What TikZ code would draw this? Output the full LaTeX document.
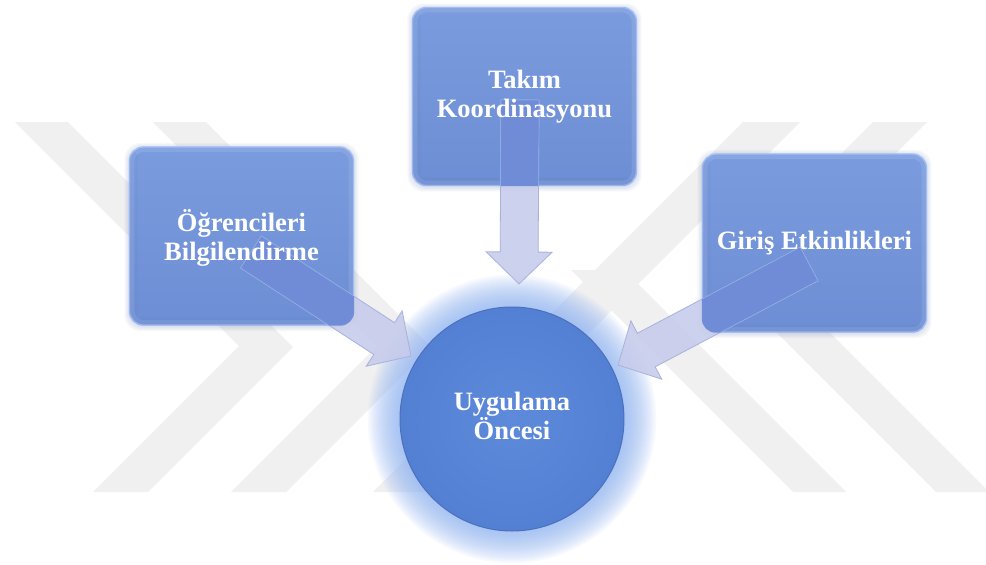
\documentclass[tikz,border=0pt]{standalone}
\usepackage{fontspec}
\setmainfont{Liberation Serif}
\usetikzlibrary{calc}

\definecolor{wmgray}{HTML}{F0F0F0}
\definecolor{boxtop}{HTML}{7A9BDD}
\definecolor{boxbot}{HTML}{6D8ED4}
\definecolor{boxrim}{HTML}{97B6F3}
\definecolor{boxshade}{HTML}{5C78B8}
\definecolor{ballout}{HTML}{5480D4}
\definecolor{ballin}{HTML}{5E8ADB}
\definecolor{ballrim}{HTML}{4B70BC}
\definecolor{glowc}{HTML}{8AB1F4}
\definecolor{arrfill}{HTML}{C6CBEB}
\definecolor{arrrim}{HTML}{A9B1DC}
\definecolor{arrdeep}{HTML}{6383D5}

\tikzset{
  panelsize/.style={minimum width=224pt, minimum height=178pt, inner sep=0pt},
  panel/.style={panelsize, rounded corners=14pt, top color=boxtop,
    bottom color=boxbot, draw=boxrim, line width=1.4pt},
  ball/.style={circle, minimum size=224pt, inner sep=0pt, draw=ballrim,
    line width=1pt, inner color=ballin, outer color=ballout},
  txt/.style={text=white, font=\fontsize{26.5}{29.5}\selectfont\bfseries,
    align=center, inner sep=0pt},
  arrowbody/.style={fill=arrfill, fill opacity=0.88, draw=arrrim,
    line width=0.8pt, line join=miter},
  arrowdeep/.style={fill=arrdeep, fill opacity=0.85, draw=boxrim,
    draw opacity=0.6, line width=0.6pt},
  wm/.style={fill=wmgray}
}

% block arrow from a tail coordinate to a tip coordinate
\newcommand\blockarrow[3]{%
  \pgfpointdiff{\pgfpointanchor{#2}{center}}{\pgfpointanchor{#3}{center}}%
  \pgfgetlastxy{\arrdx}{\arrdy}%
  \pgfmathsetmacro\arrang{atan2(\arrdy,\arrdx)}%
  \pgfmathsetmacro\arrlen{veclen(\arrdx,\arrdy)}%
  \pgfmathsetmacro\arrneck{\arrlen-32}%
  \begin{scope}[shift={(#2)}, rotate=\arrang, x=1pt, y=1pt]
    \path[#1] (0,-19) -- (\arrneck,-19) -- (\arrneck,-33) -- (\arrlen,0)
      -- (\arrneck,33) -- (\arrneck,19) -- (0,19) -- cycle;
  \end{scope}}

% soft shadow and bevel of a panel node
\newcommand\panelshadow[1]{%
  \foreach \k in {1,...,5}
    \fill[boxshade, opacity=0.045, rounded corners=16pt]
      ([xshift=-\k pt, yshift=-\k pt-1pt]#1.south west)
      rectangle ([xshift=\k pt, yshift=\k pt-1pt]#1.north east);}
\newcommand\panelbevel[1]{%
  \begin{scope}
    \clip[rounded corners=14pt] (#1.south west) rectangle (#1.north east);
    \draw[white, opacity=0.10, line width=9pt, rounded corners=14pt]
      ([xshift=1pt, yshift=1pt]#1.south west) rectangle ([xshift=-1pt, yshift=-1pt]#1.north east);
    \fill[boxshade, opacity=0.12]
      (#1.south west) -- ([xshift=9pt, yshift=9pt]#1.south west)
      -- ([xshift=-9pt, yshift=9pt]#1.south east) -- (#1.south east) -- cycle;
    \fill[boxshade, opacity=0.08]
      (#1.south west) -- ([xshift=9pt, yshift=9pt]#1.south west)
      -- ([xshift=9pt, yshift=-9pt]#1.north west) -- (#1.north west) -- cycle;
  \end{scope}}

\begin{document}
\begin{tikzpicture}[x=1pt, y=-1pt]
  \useasboundingbox (0,0) rectangle (986,565);
  \fill[white] (0,0) rectangle (986,565);

  % faint emblem in the background
  \fill[wm] (15,122) -- (68,122) -- (293,347) -- (148,492) -- (93,492) -- (239,346) -- cycle;
  \fill[wm] (153,122) -- (206,122) -- (431,347) -- (286,492) -- (231,492) -- (377,346) -- cycle;
  \fill[wm] (873,122) -- (927,122) -- (773,276) -- (989,492) -- (936,492) -- (719.5,275.5) -- cycle;
  \fill[wm] (743,122) -- (800,122) -- (430,492) -- (373,492) -- cycle;
  \fill[wm] (571,270) -- (624,270) -- (846,492) -- (793,492) -- cycle;

  % centre node and its halo
  \coordinate (ballc) at (512,419);
  \foreach \k in {1,...,18}
    \fill[glowc, opacity=0.065] (ballc) circle[radius={(110+1.9*\k)*1pt}];
  \node[ball] (uyg) at (ballc) {};

  % outer panels
  \coordinate (takimc) at (524.5,96.5);
  \coordinate (ogrc)   at (241.5,236);
  \coordinate (girisc) at (814.5,243);
  \node[panelsize] (takimS) at (takimc) {};
  \node[panelsize] (ogrS)   at (ogrc) {};
  \node[panelsize] (girisS) at (girisc) {};
  \panelshadow{takimS}
  \panelshadow{ogrS}
  \panelshadow{girisS}
  \node[panel] (takim) at (takimc) {};
  \node[panel] (ogr)   at (ogrc) {};
  \node[panel] (giris) at (girisc) {};
  \panelbevel{takim}
  \panelbevel{ogr}
  \panelbevel{giris}

  % arrow ends
  \coordinate (tT) at (520,100);
  \coordinate (hT) at (519,284);
  \coordinate (tL) at (251,252);
  \coordinate (hL) at (411,356);
  \coordinate (tR) at (809,264);
  \coordinate (hR) at (618,365);

  \blockarrow{arrowbody}{tT}{hT}
  \blockarrow{arrowbody}{tL}{hL}
  \blockarrow{arrowbody}{tR}{hR}

  % the part of each arrow lying over its panel
  \begin{scope}
    \clip[rounded corners=14pt] (takim.south west) rectangle (takim.north east);
    \blockarrow{arrowdeep}{tT}{hT}
  \end{scope}
  \begin{scope}
    \clip[rounded corners=14pt] (ogr.south west) rectangle (ogr.north east);
    \blockarrow{arrowdeep}{tL}{hL}
  \end{scope}
  \begin{scope}
    \clip[rounded corners=14pt] (giris.south west) rectangle (giris.north east);
    \blockarrow{arrowdeep}{tR}{hR}
  \end{scope}

  % texts
  \node[txt] (takimT) at (takim.center) {Takım\\Koordinasyonu};
  \node[txt] (ogrT)   at ([yshift=-2pt]ogr.center) {Öğrencileri\\Bilgilendirme};
  \node[txt] (girisT) at (giris.center) {Giriş Etkinlikleri};
  \node[txt] (uygT)   at ([yshift=3pt]uyg.center) {Uygulama\\Öncesi};
\end{tikzpicture}
\end{document}
